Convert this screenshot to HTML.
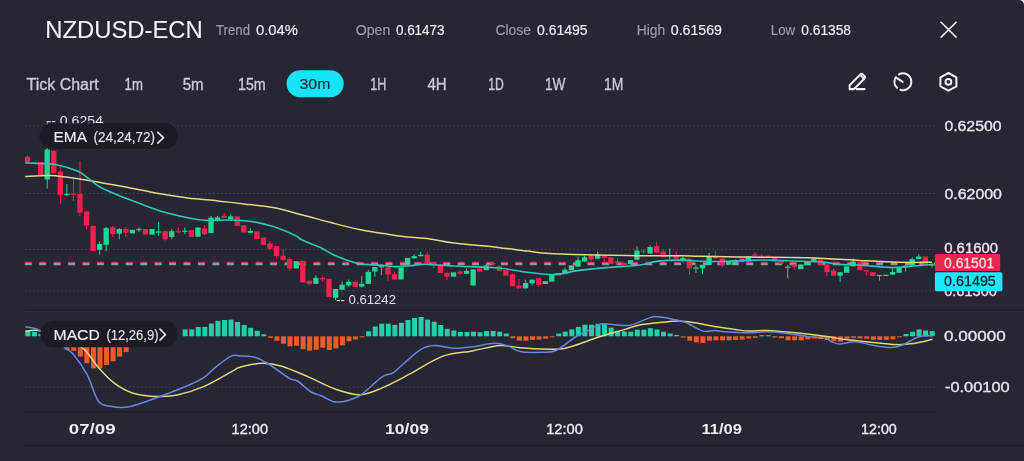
<!DOCTYPE html>
<html><head><meta charset="utf-8"><style>
html,body{margin:0;padding:0;background:#ffffff;}
#w{position:relative;width:1024px;height:461px;overflow:hidden;background:#262634;border-top-right-radius:5px;will-change:transform;font-family:"Liberation Sans", sans-serif;}
</style></head><body><div id="w">
<svg width="1024" height="461" viewBox="0 0 1024 461" style="position:absolute;left:0;top:0;font-family:'Liberation Sans', sans-serif">
<rect x="32" y="305.3" width="992" height="1" fill="#2b2b39"/>
<rect x="24" y="309.9" width="1000" height="1.1" fill="#1d1d28"/><rect x="24" y="311" width="1000" height="1" fill="#2e2e3c"/>
<rect x="24" y="411.2" width="911" height="1.2" fill="#1d1d28"/>
<rect x="24" y="444.9" width="1000" height="1.2" fill="#1f1f2a"/>
<line x1="25" y1="125.7" x2="935" y2="125.7" stroke="#50505e" stroke-width="1" stroke-dasharray="1.2 2.8"/>
<line x1="25" y1="193.5" x2="935" y2="193.5" stroke="#50505e" stroke-width="1" stroke-dasharray="1.2 2.8"/>
<line x1="25" y1="249.5" x2="935" y2="249.5" stroke="#50505e" stroke-width="1" stroke-dasharray="1.2 2.8"/>
<line x1="25" y1="290.8" x2="935" y2="290.8" stroke="#50505e" stroke-width="1" stroke-dasharray="1.2 2.8"/>
<line x1="25" y1="387.2" x2="935" y2="387.2" stroke="#50505e" stroke-width="1" stroke-dasharray="1.2 2.8"/>
<defs><clipPath id="mc"><rect x="20" y="113" width="915" height="197"/></clipPath><clipPath id="mm"><rect x="20" y="311.5" width="915" height="98.5"/></clipPath></defs>
<g clip-path="url(#mc)">
<line x1="24.8" y1="262.6" x2="935" y2="262.6" stroke="#c83a6e" stroke-width="1.6" stroke-dasharray="6.9 7.53"/>
<line x1="24.8" y1="264.1" x2="935" y2="264.1" stroke="#e0d8e0" stroke-width="1.4" stroke-dasharray="6.9 7.53"/>
<line x1="24.8" y1="265.4" x2="935" y2="265.4" stroke="#1f5446" stroke-width="1.2" stroke-dasharray="6.9 7.53"/>
<rect x="27.05" y="155.4" width="1" height="7.2" fill="#f0224b"/>
<rect x="24.9" y="156.7" width="5.3" height="5.9" fill="#f0224b"/>
<rect x="31.45" y="162.5" width="5.3" height="1.5" fill="#1fd692"/>
<rect x="38.01" y="161.9" width="5.3" height="13.1" fill="#f0224b"/>
<rect x="46.71" y="121" width="1" height="67.6" fill="#1fd692"/>
<rect x="44.56" y="149.6" width="5.3" height="29.9" fill="#1fd692"/>
<rect x="53.26" y="150" width="1" height="23" fill="#f0224b"/>
<rect x="51.11" y="150.9" width="5.3" height="22.1" fill="#f0224b"/>
<rect x="59.81" y="165.8" width="1" height="38.2" fill="#f0224b"/>
<rect x="57.66" y="171.7" width="5.3" height="23.3" fill="#f0224b"/>
<rect x="66.37" y="184" width="1" height="12" fill="#1fd692"/>
<rect x="64.22" y="193.8" width="5.3" height="1.3" fill="#1fd692"/>
<rect x="72.92" y="176.9" width="1" height="24.1" fill="#f0224b"/>
<rect x="70.77" y="193.5" width="5.3" height="1.5" fill="#f0224b"/>
<rect x="79.47" y="161" width="1" height="55.5" fill="#f0224b"/>
<rect x="77.32" y="194" width="5.3" height="18.6" fill="#f0224b"/>
<rect x="86.03" y="210.7" width="1" height="19.1" fill="#f0224b"/>
<rect x="83.88" y="211.5" width="5.3" height="13.9" fill="#f0224b"/>
<rect x="90.43" y="225.8" width="5.3" height="25.2" fill="#f0224b"/>
<rect x="99.13" y="241.5" width="1" height="13.2" fill="#1fd692"/>
<rect x="96.98" y="244" width="5.3" height="5.8" fill="#1fd692"/>
<rect x="105.69" y="227" width="1" height="24.3" fill="#1fd692"/>
<rect x="103.54" y="227.9" width="5.3" height="16.9" fill="#1fd692"/>
<rect x="112.24" y="226" width="1" height="11" fill="#f0224b"/>
<rect x="110.09" y="227.3" width="5.3" height="6.9" fill="#f0224b"/>
<rect x="118.79" y="228" width="1" height="11.3" fill="#1fd692"/>
<rect x="116.64" y="229" width="5.3" height="4.7" fill="#1fd692"/>
<rect x="125.34" y="227" width="1" height="10" fill="#f0224b"/>
<rect x="123.19" y="228.7" width="5.3" height="4" fill="#f0224b"/>
<rect x="129.75" y="229.8" width="5.3" height="3.6" fill="#1fd692"/>
<rect x="138.45" y="227.3" width="1" height="4.7" fill="#1fd692"/>
<rect x="136.3" y="228.9" width="5.3" height="1.2" fill="#1fd692"/>
<rect x="142.85" y="229" width="5.3" height="5.6" fill="#f0224b"/>
<rect x="149.41" y="229" width="5.3" height="5.6" fill="#1fd692"/>
<rect x="158.11" y="221.7" width="1" height="13.9" fill="#1fd692"/>
<rect x="155.96" y="231.4" width="5.3" height="1.2" fill="#1fd692"/>
<rect x="164.66" y="231" width="1" height="9.7" fill="#f0224b"/>
<rect x="162.51" y="231.2" width="5.3" height="8.1" fill="#f0224b"/>
<rect x="171.22" y="229" width="1" height="10.3" fill="#1fd692"/>
<rect x="169.07" y="231.2" width="5.3" height="5.8" fill="#1fd692"/>
<rect x="177.77" y="227.3" width="1" height="6.1" fill="#f0224b"/>
<rect x="175.62" y="231.1" width="5.3" height="1.2" fill="#f0224b"/>
<rect x="184.32" y="227.3" width="1" height="6.9" fill="#1fd692"/>
<rect x="182.17" y="230.7" width="5.3" height="1.2" fill="#1fd692"/>
<rect x="188.72" y="230.2" width="5.3" height="6.8" fill="#f0224b"/>
<rect x="197.43" y="227" width="1" height="10" fill="#1fd692"/>
<rect x="195.28" y="227.6" width="5.3" height="9" fill="#1fd692"/>
<rect x="203.98" y="225.4" width="1" height="9.6" fill="#f0224b"/>
<rect x="201.83" y="228.3" width="5.3" height="5.9" fill="#f0224b"/>
<rect x="210.53" y="215.9" width="1" height="17.2" fill="#1fd692"/>
<rect x="208.38" y="217.6" width="5.3" height="15.5" fill="#1fd692"/>
<rect x="217.09" y="215.9" width="1" height="5.8" fill="#1fd692"/>
<rect x="214.94" y="217.3" width="5.3" height="2.9" fill="#1fd692"/>
<rect x="223.64" y="212.9" width="1" height="5.1" fill="#f0224b"/>
<rect x="221.49" y="215.9" width="5.3" height="2.1" fill="#f0224b"/>
<rect x="230.19" y="214.2" width="1" height="4.8" fill="#1fd692"/>
<rect x="228.04" y="216.4" width="5.3" height="2.6" fill="#1fd692"/>
<rect x="234.6" y="216.4" width="5.3" height="9.5" fill="#f0224b"/>
<rect x="241.15" y="225.1" width="5.3" height="7.4" fill="#f0224b"/>
<rect x="249.85" y="228.4" width="1" height="4.4" fill="#1fd692"/>
<rect x="247.7" y="231" width="5.3" height="1.8" fill="#1fd692"/>
<rect x="254.25" y="231.3" width="5.3" height="7.7" fill="#f0224b"/>
<rect x="260.81" y="237.6" width="5.3" height="7.3" fill="#f0224b"/>
<rect x="269.51" y="241.2" width="1" height="7.6" fill="#f0224b"/>
<rect x="267.36" y="243.4" width="5.3" height="5.4" fill="#f0224b"/>
<rect x="276.06" y="246" width="1" height="12.3" fill="#f0224b"/>
<rect x="273.91" y="246" width="5.3" height="10.1" fill="#f0224b"/>
<rect x="282.62" y="248.8" width="1" height="11.4" fill="#f0224b"/>
<rect x="280.47" y="255.8" width="5.3" height="4.4" fill="#f0224b"/>
<rect x="289.17" y="257.3" width="1" height="13.4" fill="#f0224b"/>
<rect x="287.02" y="259" width="5.3" height="9.5" fill="#f0224b"/>
<rect x="293.57" y="261.2" width="5.3" height="7.3" fill="#1fd692"/>
<rect x="300.13" y="260.8" width="5.3" height="21.7" fill="#f0224b"/>
<rect x="308.83" y="280.7" width="1" height="4.7" fill="#f0224b"/>
<rect x="306.68" y="280.7" width="5.3" height="3.2" fill="#f0224b"/>
<rect x="315.38" y="275" width="1" height="8.9" fill="#1fd692"/>
<rect x="313.23" y="277.8" width="5.3" height="6.1" fill="#1fd692"/>
<rect x="321.93" y="275.9" width="1" height="5.8" fill="#f0224b"/>
<rect x="319.78" y="277.8" width="5.3" height="1.7" fill="#f0224b"/>
<rect x="326.34" y="278.8" width="5.3" height="18.3" fill="#f0224b"/>
<rect x="335.04" y="289" width="1" height="11" fill="#1fd692"/>
<rect x="332.89" y="289" width="5.3" height="8.8" fill="#1fd692"/>
<rect x="341.59" y="281.7" width="1" height="8.1" fill="#1fd692"/>
<rect x="339.44" y="284.7" width="5.3" height="5.1" fill="#1fd692"/>
<rect x="348.15" y="279.5" width="1" height="7.4" fill="#1fd692"/>
<rect x="346" y="281.7" width="5.3" height="3.7" fill="#1fd692"/>
<rect x="352.55" y="281.7" width="5.3" height="5.2" fill="#f0224b"/>
<rect x="361.25" y="275.9" width="1" height="11.7" fill="#1fd692"/>
<rect x="359.1" y="283.9" width="5.3" height="2.7" fill="#1fd692"/>
<rect x="367.81" y="270" width="1" height="13.9" fill="#1fd692"/>
<rect x="365.66" y="271.9" width="5.3" height="12" fill="#1fd692"/>
<rect x="374.36" y="267.1" width="1" height="9.5" fill="#1fd692"/>
<rect x="372.21" y="267.1" width="5.3" height="4.4" fill="#1fd692"/>
<rect x="380.91" y="264.2" width="1" height="10.9" fill="#1fd692"/>
<rect x="378.76" y="266.1" width="5.3" height="1.2" fill="#1fd692"/>
<rect x="387.46" y="267.1" width="1" height="13.9" fill="#f0224b"/>
<rect x="385.31" y="267.1" width="5.3" height="7.3" fill="#f0224b"/>
<rect x="394.02" y="271.5" width="1" height="8" fill="#f0224b"/>
<rect x="391.87" y="274" width="5.3" height="5.5" fill="#f0224b"/>
<rect x="398.42" y="267.5" width="5.3" height="12" fill="#1fd692"/>
<rect x="404.97" y="257.9" width="5.3" height="7" fill="#1fd692"/>
<rect x="413.68" y="254.3" width="1" height="4.7" fill="#1fd692"/>
<rect x="411.53" y="256.1" width="5.3" height="2.2" fill="#1fd692"/>
<rect x="420.23" y="251.8" width="1" height="4.4" fill="#1fd692"/>
<rect x="418.08" y="254.8" width="5.3" height="1.4" fill="#1fd692"/>
<rect x="426.78" y="252.6" width="1" height="10.9" fill="#f0224b"/>
<rect x="424.63" y="254.8" width="5.3" height="8.7" fill="#f0224b"/>
<rect x="433.34" y="262" width="1" height="6" fill="#f0224b"/>
<rect x="431.19" y="262" width="5.3" height="3" fill="#f0224b"/>
<rect x="437.74" y="265" width="5.3" height="8" fill="#f0224b"/>
<rect x="446.44" y="272.8" width="1" height="6.9" fill="#f0224b"/>
<rect x="444.29" y="272.8" width="5.3" height="3.9" fill="#f0224b"/>
<rect x="450.84" y="272.3" width="5.3" height="4.4" fill="#1fd692"/>
<rect x="459.55" y="270.1" width="1" height="5.2" fill="#f0224b"/>
<rect x="457.4" y="271.6" width="5.3" height="2.2" fill="#f0224b"/>
<rect x="466.1" y="268.7" width="1" height="5.1" fill="#1fd692"/>
<rect x="463.95" y="270.9" width="5.3" height="2.9" fill="#1fd692"/>
<rect x="470.5" y="269.4" width="5.3" height="16.1" fill="#1fd692"/>
<rect x="477.06" y="268.4" width="5.3" height="3.2" fill="#f0224b"/>
<rect x="485.76" y="263.6" width="1" height="6.5" fill="#1fd692"/>
<rect x="483.61" y="265.5" width="5.3" height="4.6" fill="#1fd692"/>
<rect x="492.31" y="262.5" width="1" height="2.5" fill="#f0224b"/>
<rect x="490.16" y="263.15" width="5.3" height="1.2" fill="#f0224b"/>
<rect x="498.87" y="265" width="1" height="5.9" fill="#f0224b"/>
<rect x="496.72" y="266.5" width="5.3" height="4.4" fill="#f0224b"/>
<rect x="503.27" y="270.1" width="5.3" height="5.6" fill="#f0224b"/>
<rect x="511.97" y="273.4" width="1" height="12.8" fill="#f0224b"/>
<rect x="509.82" y="274.5" width="5.3" height="11.7" fill="#f0224b"/>
<rect x="518.52" y="279" width="1" height="9.4" fill="#f0224b"/>
<rect x="516.38" y="285.5" width="5.3" height="2.9" fill="#f0224b"/>
<rect x="525.08" y="279.7" width="1" height="8.7" fill="#1fd692"/>
<rect x="522.93" y="283" width="5.3" height="5.4" fill="#1fd692"/>
<rect x="531.63" y="279.7" width="1" height="5.8" fill="#1fd692"/>
<rect x="529.48" y="279.7" width="5.3" height="3.6" fill="#1fd692"/>
<rect x="538.18" y="278.2" width="1" height="8.8" fill="#f0224b"/>
<rect x="536.03" y="278.2" width="5.3" height="6.6" fill="#f0224b"/>
<rect x="542.59" y="281.1" width="5.3" height="2.9" fill="#1fd692"/>
<rect x="549.14" y="274.5" width="5.3" height="7.1" fill="#1fd692"/>
<rect x="555.69" y="273" width="5.3" height="2.3" fill="#1fd692"/>
<rect x="564.4" y="267.5" width="1" height="6.5" fill="#1fd692"/>
<rect x="562.25" y="269.7" width="5.3" height="4.3" fill="#1fd692"/>
<rect x="568.8" y="265.3" width="5.3" height="5.1" fill="#1fd692"/>
<rect x="577.5" y="256.5" width="1" height="10.2" fill="#1fd692"/>
<rect x="575.35" y="260.1" width="5.3" height="6.6" fill="#1fd692"/>
<rect x="584.05" y="255.7" width="1" height="5.9" fill="#1fd692"/>
<rect x="581.9" y="257.2" width="5.3" height="4.4" fill="#1fd692"/>
<rect x="590.61" y="255" width="1" height="6.6" fill="#f0224b"/>
<rect x="588.46" y="256" width="5.3" height="3.4" fill="#f0224b"/>
<rect x="597.16" y="251.4" width="1" height="7.3" fill="#1fd692"/>
<rect x="595.01" y="254.3" width="5.3" height="4.4" fill="#1fd692"/>
<rect x="603.71" y="255.7" width="1" height="7.3" fill="#f0224b"/>
<rect x="601.56" y="255.7" width="5.3" height="2.3" fill="#f0224b"/>
<rect x="608.12" y="257.2" width="5.3" height="6.6" fill="#f0224b"/>
<rect x="616.82" y="258" width="1" height="6.5" fill="#f0224b"/>
<rect x="614.67" y="261.4" width="5.3" height="1.2" fill="#f0224b"/>
<rect x="621.22" y="262.8" width="5.3" height="2.5" fill="#f0224b"/>
<rect x="627.78" y="260.1" width="5.3" height="4.1" fill="#1fd692"/>
<rect x="636.48" y="246.2" width="1" height="13.6" fill="#1fd692"/>
<rect x="634.33" y="250.6" width="5.3" height="9.2" fill="#1fd692"/>
<rect x="643.03" y="249.2" width="1" height="4.3" fill="#f0224b"/>
<rect x="640.88" y="250.8" width="5.3" height="1.2" fill="#f0224b"/>
<rect x="649.58" y="245.5" width="1" height="8" fill="#1fd692"/>
<rect x="647.43" y="247" width="5.3" height="6.5" fill="#1fd692"/>
<rect x="656.14" y="242.3" width="1" height="10.5" fill="#f0224b"/>
<rect x="653.99" y="246.2" width="5.3" height="6.6" fill="#f0224b"/>
<rect x="662.69" y="249.2" width="1" height="8" fill="#f0224b"/>
<rect x="660.54" y="251.4" width="5.3" height="5.8" fill="#f0224b"/>
<rect x="669.24" y="248.4" width="1" height="11" fill="#1fd692"/>
<rect x="667.09" y="255.1" width="5.3" height="1.2" fill="#1fd692"/>
<rect x="675.8" y="251.4" width="1" height="7.3" fill="#f0224b"/>
<rect x="673.65" y="255" width="5.3" height="3.7" fill="#f0224b"/>
<rect x="682.35" y="255.7" width="1" height="6.6" fill="#1fd692"/>
<rect x="680.2" y="258" width="5.3" height="2.1" fill="#1fd692"/>
<rect x="688.9" y="258.7" width="1" height="16.1" fill="#f0224b"/>
<rect x="686.75" y="258.7" width="5.3" height="9.5" fill="#f0224b"/>
<rect x="695.46" y="265.3" width="1" height="7.7" fill="#1fd692"/>
<rect x="693.31" y="267.5" width="5.3" height="1.3" fill="#1fd692"/>
<rect x="702.01" y="264.8" width="1" height="9.2" fill="#1fd692"/>
<rect x="699.86" y="264.8" width="5.3" height="3.6" fill="#1fd692"/>
<rect x="708.56" y="252.7" width="1" height="12.3" fill="#1fd692"/>
<rect x="706.41" y="256.4" width="5.3" height="8.6" fill="#1fd692"/>
<rect x="715.11" y="251.2" width="1" height="7.3" fill="#f0224b"/>
<rect x="712.96" y="255.6" width="5.3" height="2.9" fill="#f0224b"/>
<rect x="721.67" y="258.5" width="1" height="8.8" fill="#f0224b"/>
<rect x="719.52" y="258.5" width="5.3" height="6.6" fill="#f0224b"/>
<rect x="726.07" y="261.5" width="5.3" height="3.3" fill="#1fd692"/>
<rect x="734.77" y="259.3" width="1" height="5.1" fill="#1fd692"/>
<rect x="732.62" y="260.7" width="5.3" height="3.7" fill="#1fd692"/>
<rect x="739.18" y="258.5" width="5.3" height="3.7" fill="#f0224b"/>
<rect x="745.73" y="256.4" width="5.3" height="5.1" fill="#1fd692"/>
<rect x="754.43" y="252" width="1" height="5" fill="#f0224b"/>
<rect x="752.28" y="254.35" width="5.3" height="1.2" fill="#f0224b"/>
<rect x="760.99" y="254.2" width="1" height="4.3" fill="#f0224b"/>
<rect x="758.84" y="255.7" width="5.3" height="1.2" fill="#f0224b"/>
<rect x="765.39" y="255.6" width="5.3" height="2.2" fill="#f0224b"/>
<rect x="771.94" y="257" width="5.3" height="4.5" fill="#f0224b"/>
<rect x="778.5" y="260" width="5.3" height="3.7" fill="#f0224b"/>
<rect x="787.2" y="265" width="1" height="13.3" fill="#1fd692"/>
<rect x="785.05" y="266.7" width="5.3" height="1.2" fill="#1fd692"/>
<rect x="793.75" y="264.4" width="1" height="5.1" fill="#f0224b"/>
<rect x="791.6" y="264.4" width="5.3" height="2.2" fill="#f0224b"/>
<rect x="798.15" y="264.4" width="5.3" height="4.8" fill="#1fd692"/>
<rect x="804.71" y="261.5" width="5.3" height="3.6" fill="#1fd692"/>
<rect x="813.41" y="257" width="1" height="5.2" fill="#1fd692"/>
<rect x="811.26" y="258.5" width="5.3" height="3.7" fill="#1fd692"/>
<rect x="817.81" y="259.3" width="5.3" height="5.8" fill="#f0224b"/>
<rect x="826.52" y="264.5" width="1" height="11.5" fill="#f0224b"/>
<rect x="824.37" y="264.5" width="5.3" height="7.5" fill="#f0224b"/>
<rect x="833.07" y="268.2" width="1" height="7.5" fill="#f0224b"/>
<rect x="830.92" y="270.5" width="5.3" height="5.2" fill="#f0224b"/>
<rect x="839.62" y="272.3" width="1" height="9.7" fill="#1fd692"/>
<rect x="837.47" y="272.3" width="5.3" height="3.4" fill="#1fd692"/>
<rect x="844.02" y="266.3" width="5.3" height="6.5" fill="#1fd692"/>
<rect x="852.73" y="258.4" width="1" height="7.9" fill="#1fd692"/>
<rect x="850.58" y="261.7" width="5.3" height="4.6" fill="#1fd692"/>
<rect x="857.13" y="262.3" width="5.3" height="7.9" fill="#f0224b"/>
<rect x="865.83" y="270.2" width="1" height="5.2" fill="#f0224b"/>
<rect x="863.68" y="270.2" width="5.3" height="1.3" fill="#f0224b"/>
<rect x="870.24" y="272.1" width="5.3" height="3.9" fill="#f0224b"/>
<rect x="878.94" y="275" width="1" height="5.6" fill="#1fd692"/>
<rect x="876.79" y="274.9" width="5.3" height="1.2" fill="#1fd692"/>
<rect x="883.34" y="274.7" width="5.3" height="1.3" fill="#1fd692"/>
<rect x="892.05" y="268.8" width="1" height="5.9" fill="#1fd692"/>
<rect x="889.9" y="272" width="5.3" height="2.7" fill="#1fd692"/>
<rect x="896.45" y="267.6" width="5.3" height="5.2" fill="#1fd692"/>
<rect x="905.15" y="263.6" width="1" height="7.9" fill="#1fd692"/>
<rect x="903" y="265.6" width="5.3" height="1.2" fill="#1fd692"/>
<rect x="911.7" y="257.8" width="1" height="7.8" fill="#1fd692"/>
<rect x="909.55" y="259.1" width="5.3" height="6.5" fill="#1fd692"/>
<rect x="918.26" y="254.3" width="1" height="4.8" fill="#1fd692"/>
<rect x="916.11" y="256.5" width="5.3" height="2.6" fill="#1fd692"/>
<rect x="922.66" y="256.5" width="5.3" height="9.1" fill="#f0224b"/>
<rect x="931.36" y="264.3" width="1" height="3.3" fill="#1fd692"/>
<rect x="929.21" y="264.3" width="5.3" height="1.3" fill="#1fd692"/>
<path d="M25.2 176.5 C29.5 176.33 41.87 175.08 51 175.5 C60.13 175.92 71.83 177.82 80 179 C88.17 180.18 91.78 181.15 100 182.6 C108.22 184.05 119.53 185.88 129.3 187.7 C139.07 189.52 148.83 191.8 158.6 193.5 C168.37 195.2 178.13 196.67 187.9 197.9 C197.67 199.13 207.85 199.9 217.2 200.9 C226.55 201.9 234.7 202.78 244 203.9 C253.3 205.02 263.25 205.77 273 207.6 C282.75 209.43 293 212.45 302.5 214.9 C312 217.35 320.53 219.85 330 222.3 C339.47 224.75 350.35 227.72 359.3 229.6 C368.25 231.48 376.38 232.45 383.7 233.6 C391.02 234.75 395.48 235.62 403.2 236.5 C410.92 237.38 421.53 237.82 430 238.9 C438.47 239.98 442.68 241.58 454 243 C465.32 244.42 485.7 246.05 497.9 247.4 C510.1 248.75 518.52 250.08 527.2 251.1 C535.88 252.12 538.87 252.85 550 253.5 C561.13 254.15 579.35 254.63 594 255 C608.65 255.37 623.27 255.58 637.9 255.7 C652.53 255.82 671.45 255.62 681.8 255.7 C692.15 255.78 688.87 255.97 700 256.2 C711.13 256.43 730.73 256.83 748.6 257.1 C766.47 257.37 791.97 257.43 807.2 257.8 C822.43 258.17 831.37 258.87 840 259.3 C848.63 259.73 849.33 259.9 859 260.4 C868.67 260.9 885.83 261.98 898 262.3 C910.17 262.62 926.33 262.3 932 262.3" fill="none" stroke="#e4d984" stroke-width="1.5"/>
<path d="M25.2 162.9 C27.67 163 34.78 163.2 40 163.5 C45.22 163.8 50.28 163.45 56.5 164.7 C62.72 165.95 72.1 168.82 77.3 171 C82.5 173.18 83.92 175.13 87.7 177.8 C91.48 180.47 94.62 183.97 100 187 C105.38 190.03 115.12 193.93 120 196 C124.88 198.07 122.87 197 129.3 199.4 C135.73 201.8 148.83 207.35 158.6 210.4 C168.37 213.45 180.08 216.05 187.9 217.7 C195.72 219.35 198.6 219.92 205.5 220.3 C212.4 220.68 221.67 219.8 229.3 220 C236.93 220.2 243.98 220.4 251.3 221.5 C258.62 222.6 265.88 224.28 273.2 226.6 C280.52 228.92 290.37 233.17 295.2 235.4 C300.03 237.63 297.85 237.9 302.2 240 C306.55 242.1 315.83 245.42 321.3 248 C326.77 250.58 328.9 252.93 335 255.5 C341.1 258.07 350.18 261.78 357.9 263.4 C365.62 265.02 375.2 264.67 381.3 265.2 C387.4 265.73 389.72 266.52 394.5 266.6 C399.28 266.68 404.98 266.08 410 265.7 C415.02 265.32 417.27 264.25 424.6 264.3 C431.93 264.35 441.78 265.38 454 266 C466.22 266.62 485.7 266.95 497.9 268 C510.1 269.05 518.65 271.22 527.2 272.3 C535.75 273.38 543.73 274.22 549.2 274.5 C554.67 274.78 554.98 274.68 560 274 C565.02 273.32 571.2 271.48 579.3 270.4 C587.4 269.32 598.83 268.35 608.6 267.5 C618.37 266.65 629.35 266.4 637.9 265.3 C646.45 264.2 652.58 261.77 659.9 260.9 C667.22 260.03 675.12 260.05 681.8 260.1 C688.48 260.15 693.75 260.97 700 261.2 C706.25 261.43 708.77 261.7 719.3 261.5 C729.83 261.3 751 260.08 763.2 260 C775.4 259.92 782.73 260.67 792.5 261 C802.27 261.33 813.88 261.43 821.8 262 C829.72 262.57 833.8 263.9 840 264.4 C846.2 264.9 850.4 264.47 859 265 C867.6 265.53 882.93 267.38 891.6 267.6 C900.27 267.82 904.1 266.85 911 266.3 C917.9 265.75 929.33 264.63 933 264.3" fill="none" stroke="#2ac6bc" stroke-width="1.6"/>
</g>
<g clip-path="url(#mm)">
<rect x="25.4" y="330.6" width="5" height="5.7" fill="#22cfa8"/>
<rect x="31.95" y="332" width="5" height="4.3" fill="#22cfa8"/>
<rect x="38.51" y="334" width="5" height="2.3" fill="#22cfa8"/>
<rect x="45.06" y="336.3" width="5" height="4.7" fill="#f05a24"/>
<rect x="51.61" y="336.3" width="5" height="7.7" fill="#f05a24"/>
<rect x="58.16" y="336.3" width="5" height="10.7" fill="#f05a24"/>
<rect x="64.72" y="336.3" width="5" height="13.6" fill="#f05a24"/>
<rect x="71.27" y="336.3" width="5" height="14.5" fill="#f05a24"/>
<rect x="77.82" y="336.3" width="5" height="20.3" fill="#f05a24"/>
<rect x="84.38" y="336.3" width="5" height="26.9" fill="#f05a24"/>
<rect x="90.93" y="336.3" width="5" height="32.1" fill="#f05a24"/>
<rect x="97.48" y="336.3" width="5" height="32.1" fill="#f05a24"/>
<rect x="104.04" y="336.3" width="5" height="28.8" fill="#f05a24"/>
<rect x="110.59" y="336.3" width="5" height="24.9" fill="#f05a24"/>
<rect x="117.14" y="336.3" width="5" height="20.3" fill="#f05a24"/>
<rect x="123.69" y="336.3" width="5" height="15.8" fill="#f05a24"/>
<rect x="130.25" y="336.3" width="5" height="10.7" fill="#f05a24"/>
<rect x="136.8" y="336.3" width="5" height="8.7" fill="#f05a24"/>
<rect x="143.35" y="336.3" width="5" height="5.7" fill="#f05a24"/>
<rect x="149.91" y="336.3" width="5" height="2.7" fill="#f05a24"/>
<rect x="156.46" y="336.3" width="5" height="1.2" fill="#f05a24"/>
<rect x="163.01" y="334" width="5" height="2.3" fill="#22cfa8"/>
<rect x="169.57" y="332" width="5" height="4.3" fill="#22cfa8"/>
<rect x="182.67" y="329.4" width="5" height="6.9" fill="#22cfa8"/>
<rect x="189.22" y="329.4" width="5" height="6.9" fill="#22cfa8"/>
<rect x="195.78" y="327" width="5" height="9.3" fill="#22cfa8"/>
<rect x="202.33" y="327" width="5" height="9.3" fill="#22cfa8"/>
<rect x="208.88" y="323.5" width="5" height="12.8" fill="#22cfa8"/>
<rect x="215.44" y="320.8" width="5" height="15.5" fill="#22cfa8"/>
<rect x="221.99" y="320" width="5" height="16.3" fill="#22cfa8"/>
<rect x="228.54" y="319.6" width="5" height="16.7" fill="#22cfa8"/>
<rect x="235.1" y="322" width="5" height="14.3" fill="#22cfa8"/>
<rect x="241.65" y="324.9" width="5" height="11.4" fill="#22cfa8"/>
<rect x="248.2" y="327.8" width="5" height="8.5" fill="#22cfa8"/>
<rect x="254.75" y="330.8" width="5" height="5.5" fill="#22cfa8"/>
<rect x="261.31" y="334.3" width="5" height="2" fill="#22cfa8"/>
<rect x="267.86" y="336.3" width="5" height="1.5" fill="#f05a24"/>
<rect x="274.41" y="336.3" width="5" height="4.4" fill="#f05a24"/>
<rect x="280.97" y="336.3" width="5" height="7.4" fill="#f05a24"/>
<rect x="287.52" y="336.3" width="5" height="10" fill="#f05a24"/>
<rect x="294.07" y="336.3" width="5" height="9.4" fill="#f05a24"/>
<rect x="300.63" y="336.3" width="5" height="12.9" fill="#f05a24"/>
<rect x="307.18" y="336.3" width="5" height="14.3" fill="#f05a24"/>
<rect x="313.73" y="336.3" width="5" height="13.4" fill="#f05a24"/>
<rect x="320.28" y="336.3" width="5" height="11.4" fill="#f05a24"/>
<rect x="326.84" y="336.3" width="5" height="13.7" fill="#f05a24"/>
<rect x="333.39" y="336.3" width="5" height="12.2" fill="#f05a24"/>
<rect x="339.94" y="336.3" width="5" height="9.1" fill="#f05a24"/>
<rect x="346.5" y="336.3" width="5" height="5" fill="#f05a24"/>
<rect x="353.05" y="336.3" width="5" height="3.2" fill="#f05a24"/>
<rect x="359.6" y="336.3" width="5" height="1" fill="#f05a24"/>
<rect x="366.16" y="331.3" width="5" height="5" fill="#22cfa8"/>
<rect x="372.71" y="326.6" width="5" height="9.7" fill="#22cfa8"/>
<rect x="379.26" y="323.7" width="5" height="12.6" fill="#22cfa8"/>
<rect x="385.81" y="323.7" width="5" height="12.6" fill="#22cfa8"/>
<rect x="392.37" y="324.9" width="5" height="11.4" fill="#22cfa8"/>
<rect x="398.92" y="322.9" width="5" height="13.4" fill="#22cfa8"/>
<rect x="405.47" y="320" width="5" height="16.3" fill="#22cfa8"/>
<rect x="412.03" y="318" width="5" height="18.3" fill="#22cfa8"/>
<rect x="418.58" y="317" width="5" height="19.3" fill="#22cfa8"/>
<rect x="425.13" y="319.6" width="5" height="16.7" fill="#22cfa8"/>
<rect x="431.69" y="321.7" width="5" height="14.6" fill="#22cfa8"/>
<rect x="438.24" y="325" width="5" height="11.3" fill="#22cfa8"/>
<rect x="444.79" y="328.8" width="5" height="7.5" fill="#22cfa8"/>
<rect x="451.34" y="330.5" width="5" height="5.8" fill="#22cfa8"/>
<rect x="457.9" y="332" width="5" height="4.3" fill="#22cfa8"/>
<rect x="464.45" y="332" width="5" height="4.3" fill="#22cfa8"/>
<rect x="471" y="331.7" width="5" height="4.6" fill="#22cfa8"/>
<rect x="477.56" y="332.3" width="5" height="4" fill="#22cfa8"/>
<rect x="484.11" y="331.1" width="5" height="5.2" fill="#22cfa8"/>
<rect x="490.66" y="330.9" width="5" height="5.4" fill="#22cfa8"/>
<rect x="497.22" y="331.7" width="5" height="4.6" fill="#22cfa8"/>
<rect x="503.77" y="333.5" width="5" height="2.8" fill="#22cfa8"/>
<rect x="510.32" y="336.3" width="5" height="1.9" fill="#f05a24"/>
<rect x="516.88" y="336.3" width="5" height="4.4" fill="#f05a24"/>
<rect x="523.43" y="336.3" width="5" height="4.4" fill="#f05a24"/>
<rect x="529.98" y="336.3" width="5" height="3.6" fill="#f05a24"/>
<rect x="536.53" y="336.3" width="5" height="3.3" fill="#f05a24"/>
<rect x="543.09" y="336.3" width="5" height="2.4" fill="#f05a24"/>
<rect x="549.64" y="336.3" width="5" height="1" fill="#f05a24"/>
<rect x="556.19" y="333.5" width="5" height="2.8" fill="#22cfa8"/>
<rect x="562.75" y="331.7" width="5" height="4.6" fill="#22cfa8"/>
<rect x="569.3" y="329.4" width="5" height="6.9" fill="#22cfa8"/>
<rect x="575.85" y="327" width="5" height="9.3" fill="#22cfa8"/>
<rect x="582.4" y="324.7" width="5" height="11.6" fill="#22cfa8"/>
<rect x="588.96" y="324.7" width="5" height="11.6" fill="#22cfa8"/>
<rect x="595.51" y="323.8" width="5" height="12.5" fill="#22cfa8"/>
<rect x="602.06" y="323.8" width="5" height="12.5" fill="#22cfa8"/>
<rect x="608.62" y="327.6" width="5" height="8.7" fill="#22cfa8"/>
<rect x="615.17" y="330.8" width="5" height="5.5" fill="#22cfa8"/>
<rect x="621.72" y="331.4" width="5" height="4.9" fill="#22cfa8"/>
<rect x="628.28" y="331.7" width="5" height="4.6" fill="#22cfa8"/>
<rect x="634.83" y="329.7" width="5" height="6.6" fill="#22cfa8"/>
<rect x="641.38" y="329.7" width="5" height="6.6" fill="#22cfa8"/>
<rect x="647.93" y="328.2" width="5" height="8.1" fill="#22cfa8"/>
<rect x="654.49" y="329.4" width="5" height="6.9" fill="#22cfa8"/>
<rect x="661.04" y="331.7" width="5" height="4.6" fill="#22cfa8"/>
<rect x="667.59" y="333.5" width="5" height="2.8" fill="#22cfa8"/>
<rect x="674.15" y="335" width="5" height="1.3" fill="#22cfa8"/>
<rect x="680.7" y="336.3" width="5" height="1.2" fill="#f05a24"/>
<rect x="687.25" y="336.3" width="5" height="4.4" fill="#f05a24"/>
<rect x="693.81" y="336.3" width="5" height="6" fill="#f05a24"/>
<rect x="700.36" y="336.3" width="5" height="6.5" fill="#f05a24"/>
<rect x="706.91" y="336.3" width="5" height="4.4" fill="#f05a24"/>
<rect x="713.46" y="336.3" width="5" height="4" fill="#f05a24"/>
<rect x="720.02" y="336.3" width="5" height="4" fill="#f05a24"/>
<rect x="726.57" y="336.3" width="5" height="4" fill="#f05a24"/>
<rect x="733.12" y="336.3" width="5" height="3.7" fill="#f05a24"/>
<rect x="739.68" y="336.3" width="5" height="3.3" fill="#f05a24"/>
<rect x="746.23" y="336.3" width="5" height="2.2" fill="#f05a24"/>
<rect x="752.78" y="336.3" width="5" height="1.5" fill="#f05a24"/>
<rect x="759.34" y="335.2" width="5" height="1.1" fill="#22cfa8"/>
<rect x="765.89" y="335.2" width="5" height="1.1" fill="#22cfa8"/>
<rect x="772.44" y="336.3" width="5" height="1.2" fill="#f05a24"/>
<rect x="779" y="336.3" width="5" height="1.9" fill="#f05a24"/>
<rect x="785.55" y="336.3" width="5" height="4" fill="#f05a24"/>
<rect x="792.1" y="336.3" width="5" height="4" fill="#f05a24"/>
<rect x="798.65" y="336.3" width="5" height="4" fill="#f05a24"/>
<rect x="805.21" y="336.3" width="5" height="3" fill="#f05a24"/>
<rect x="811.76" y="336.3" width="5" height="2.2" fill="#f05a24"/>
<rect x="818.31" y="336.3" width="5" height="2.7" fill="#f05a24"/>
<rect x="824.87" y="336.3" width="5" height="3.7" fill="#f05a24"/>
<rect x="831.42" y="336.3" width="5" height="4.9" fill="#f05a24"/>
<rect x="837.97" y="336.3" width="5" height="5.4" fill="#f05a24"/>
<rect x="844.52" y="336.3" width="5" height="2.4" fill="#f05a24"/>
<rect x="851.08" y="336.3" width="5" height="1.6" fill="#f05a24"/>
<rect x="857.63" y="336.3" width="5" height="2.1" fill="#f05a24"/>
<rect x="864.18" y="336.3" width="5" height="2.4" fill="#f05a24"/>
<rect x="870.74" y="336.3" width="5" height="3.6" fill="#f05a24"/>
<rect x="877.29" y="336.3" width="5" height="3.6" fill="#f05a24"/>
<rect x="883.84" y="336.3" width="5" height="3.6" fill="#f05a24"/>
<rect x="890.4" y="336.3" width="5" height="3" fill="#f05a24"/>
<rect x="896.95" y="336.3" width="5" height="1" fill="#f05a24"/>
<rect x="903.5" y="334" width="5" height="2.3" fill="#22cfa8"/>
<rect x="910.05" y="331.7" width="5" height="4.6" fill="#22cfa8"/>
<rect x="916.61" y="329.4" width="5" height="6.9" fill="#22cfa8"/>
<rect x="923.16" y="330.5" width="5" height="5.8" fill="#22cfa8"/>
<rect x="929.71" y="331.1" width="5" height="5.2" fill="#22cfa8"/>
<path d="M25.2 331.3 C27.37 331.15 32.4 329.62 38.2 330.4 C44 331.18 52.55 333.03 60 336 C67.45 338.97 76.47 342.9 82.9 348.2 C89.33 353.5 93.37 361.97 98.6 367.8 C103.83 373.63 108.68 379 114.3 383.2 C119.92 387.4 125.55 390.78 132.3 393 C139.05 395.22 147.32 396.18 154.8 396.5 C162.28 396.82 168.97 396.58 177.2 394.9 C185.43 393.22 194.83 390.43 204.2 386.4 C213.57 382.37 227.43 373.88 233.4 370.7 C239.37 367.52 235.25 368.55 240 367.3 C244.75 366.05 255.07 363.42 261.9 363.2 C268.73 362.98 273.25 363.72 281 366 C288.75 368.28 299.28 373.03 308.4 376.9 C317.52 380.77 327.05 386.23 335.7 389.2 C344.35 392.17 352.55 394.92 360.3 394.7 C368.05 394.48 374 391.32 382.2 387.9 C390.4 384.48 399.47 379.45 409.5 374.2 C419.53 368.95 431.92 360.28 442.4 356.4 C452.88 352.52 462.83 352.72 472.4 350.9 C481.97 349.08 491.87 346.03 499.8 345.5 C507.73 344.97 510.35 347.07 520 347.7 C529.65 348.33 548.48 349.72 557.7 349.3 C566.92 348.88 568.45 347.25 575.3 345.2 C582.15 343.15 590.52 339.63 598.8 337 C607.08 334.37 618.4 331.37 625 329.4 C631.6 327.43 632.25 326.38 638.4 325.2 C644.55 324.02 655.13 323 661.9 322.3 C668.67 321.6 673.48 320.92 679 321 C684.52 321.08 689.07 321.9 695 322.8 C700.93 323.7 707.93 325.3 714.6 326.4 C721.27 327.5 729.37 328.62 735 329.4 C740.63 330.18 743.23 330.92 748.4 331.1 C753.57 331.28 760.13 330.4 766 330.5 C771.87 330.6 776.77 331.12 783.6 331.7 C790.43 332.28 799.18 333.12 807 334 C814.82 334.88 824.43 336.12 830.5 337 C836.57 337.88 837.33 338.52 843.4 339.3 C849.47 340.08 858.1 340.82 866.9 341.7 C875.7 342.58 888.38 344.32 896.2 344.6 C904.02 344.88 907.75 344.28 913.8 343.4 C919.85 342.52 929.38 339.98 932.5 339.3" fill="none" stroke="#e0d978" stroke-width="1.5"/>
<path d="M25.2 326.7 C27.17 327.13 32.53 327.58 37 329.3 C41.47 331.02 47.17 333.77 52 337 C56.83 340.23 62.33 345.7 66 348.7 C69.67 351.7 70.43 350.58 74 355 C77.57 359.42 83.3 367.45 87.4 375.2 C91.5 382.95 94.5 396.28 98.6 401.5 C102.7 406.72 107.13 405.58 112 406.5 C116.87 407.42 122.17 407.8 127.8 407 C133.43 406.2 139.43 403.82 145.8 401.7 C152.17 399.58 158.88 397.03 166 394.3 C173.12 391.57 182.13 388.12 188.5 385.3 C194.87 382.48 199.72 380.4 204.2 377.4 C208.68 374.4 210.92 370.85 215.4 367.3 C219.88 363.75 227 358 231.1 356.1 C235.2 354.2 236.23 355.75 240 355.9 C243.77 356.05 249.15 355.78 253.7 357 C258.25 358.22 261.38 359.65 267.3 363.2 C273.22 366.75 284.18 375.33 289.2 378.3 C294.22 381.27 293.75 378.72 297.4 381 C301.05 383.28 307 389.5 311.1 392 C315.2 394.5 318.35 394.42 322 396 C325.65 397.58 329.35 400.58 333 401.5 C336.65 402.42 340.27 402.08 343.9 401.5 C347.53 400.92 351.62 399.37 354.8 398 C357.98 396.63 358.43 396.82 363 393.3 C367.57 389.78 377.18 380.32 382.2 376.9 C387.22 373.48 389.45 375.08 393.1 372.8 C396.75 370.52 399.53 367.07 404.1 363.2 C408.67 359.33 415.5 352.55 420.5 349.6 C425.5 346.65 428.63 345.73 434.1 345.5 C439.57 345.27 446.92 347.98 453.3 348.2 C459.68 348.42 465.57 347.62 472.4 346.8 C479.23 345.98 488.37 343.43 494.3 343.3 C500.23 343.17 503.72 344.63 508 346 C512.28 347.37 514.67 350.45 520 351.5 C525.33 352.55 534 352.47 540 352.3 C546 352.13 550.12 353.05 556 350.5 C561.88 347.95 570.13 340.23 575.3 337 C580.47 333.77 582.72 333.25 587 331.1 C591.28 328.95 596.33 325.17 601 324.1 C605.67 323.03 610.13 324.52 615 324.7 C619.87 324.88 624.33 326.38 630.2 325.2 C636.07 324.02 645.7 319 650.2 317.6 C654.7 316.2 653.3 316.5 657.2 316.8 C661.1 317.1 668.92 318.48 673.6 319.4 C678.28 320.32 680.42 320.35 685.3 322.3 C690.18 324.25 698.02 329.73 702.9 331.1 C707.78 332.47 710.92 330.4 714.6 330.5 C718.28 330.6 719.37 331.3 725 331.7 C730.63 332.1 741.57 332.9 748.4 332.9 C755.23 332.9 760.13 331.7 766 331.7 C771.87 331.7 776.77 332.12 783.6 332.9 C790.43 333.68 800.17 335.52 807 336.4 C813.83 337.28 820.48 337.32 824.6 338.2 C828.72 339.08 829.13 340.73 831.7 341.7 C834.27 342.67 836.08 344 840 344 C843.92 344 849.75 341.5 855.2 341.7 C860.65 341.9 866.85 344.23 872.7 345.2 C878.55 346.17 885.42 347.5 890.3 347.5 C895.18 347.5 897.32 346.95 902 345.2 C906.68 343.45 913.32 338.57 918.4 337 C923.48 335.43 930.15 336 932.5 335.8" fill="none" stroke="#6686de" stroke-width="1.5"/>
</g>
<text x="46.5" y="125" font-size="13" fill="#e0e0e6" textLength="56.5" lengthAdjust="spacingAndGlyphs">-- 0.6254</text>
<text x="336" y="303.9" font-size="13" fill="#e0e0e6" textLength="60" lengthAdjust="spacingAndGlyphs">-- 0.61242</text>
<rect x="39.4" y="123.3" width="138.3" height="25.6" rx="12.8" fill="#1c1c26"/>
<text x="53.6" y="142.3" textLength="33.3" lengthAdjust="spacingAndGlyphs" font-size="15.4" fill="#f0f0f4" stroke="#f0f0f4" stroke-width="0.15" font-weight="normal">EMA</text>
<text x="93.5" y="142.3" textLength="61.5" lengthAdjust="spacingAndGlyphs" font-size="15.4" fill="#e2e2e8" stroke="#e2e2e8" stroke-width="0.15" font-weight="normal">(24,24,72)</text>
<path d="M157.8 132.4 L163.5 137.7 L157.8 143.1" stroke="#e8e8ee" stroke-width="1.6" fill="none" stroke-linecap="round" stroke-linejoin="round"/>
<rect x="40.3" y="320.8" width="137.5" height="26.4" rx="13.2" fill="#1c1c26"/>
<text x="53.6" y="339.6" textLength="46.2" lengthAdjust="spacingAndGlyphs" font-size="15.4" fill="#f0f0f4" stroke="#f0f0f4" stroke-width="0.15" font-weight="normal">MACD</text>
<text x="106.4" y="339.6" textLength="52.1" lengthAdjust="spacingAndGlyphs" font-size="15.4" fill="#e2e2e8" stroke="#e2e2e8" stroke-width="0.15" font-weight="normal">(12,26,9)</text>
<path d="M160 329.1 L165.4 334.6 L160 340.1" stroke="#e8e8ee" stroke-width="1.6" fill="none" stroke-linecap="round" stroke-linejoin="round"/>
<rect x="286.6" y="70.3" width="57.1" height="26.9" rx="13.4" fill="#16e4f6"/>
<text x="45.2" y="38.4" textLength="157.6" lengthAdjust="spacingAndGlyphs" font-size="24" fill="#f4f4f8" stroke="#f4f4f8" stroke-width="0.05" font-weight="normal">NZDUSD-ECN</text>
<text x="216" y="35.4" textLength="34" lengthAdjust="spacingAndGlyphs" font-size="15.2" fill="#9d9dab" stroke="#9d9dab" stroke-width="0.15" font-weight="normal">Trend</text>
<text x="256" y="35.4" textLength="42" lengthAdjust="spacingAndGlyphs" font-size="15.2" fill="#ececf2" stroke="#ececf2" stroke-width="0.2" font-weight="normal">0.04%</text>
<text x="355.7" y="35.4" textLength="34.6" lengthAdjust="spacingAndGlyphs" font-size="15.2" fill="#9d9dab" stroke="#9d9dab" stroke-width="0.15" font-weight="normal">Open</text>
<text x="395.9" y="35.4" textLength="48.7" lengthAdjust="spacingAndGlyphs" font-size="15.2" fill="#ececf2" stroke="#ececf2" stroke-width="0.2" font-weight="normal">0.61473</text>
<text x="495.4" y="35.4" textLength="35.6" lengthAdjust="spacingAndGlyphs" font-size="15.2" fill="#9d9dab" stroke="#9d9dab" stroke-width="0.15" font-weight="normal">Close</text>
<text x="537" y="35.4" textLength="50.6" lengthAdjust="spacingAndGlyphs" font-size="15.2" fill="#ececf2" stroke="#ececf2" stroke-width="0.2" font-weight="normal">0.61495</text>
<text x="636.8" y="35.4" textLength="28.4" lengthAdjust="spacingAndGlyphs" font-size="15.2" fill="#9d9dab" stroke="#9d9dab" stroke-width="0.15" font-weight="normal">High</text>
<text x="670.8" y="35.4" textLength="51.2" lengthAdjust="spacingAndGlyphs" font-size="15.2" fill="#ececf2" stroke="#ececf2" stroke-width="0.2" font-weight="normal">0.61569</text>
<text x="770.8" y="35.4" textLength="24.4" lengthAdjust="spacingAndGlyphs" font-size="15.2" fill="#9d9dab" stroke="#9d9dab" stroke-width="0.15" font-weight="normal">Low</text>
<text x="801.3" y="35.4" textLength="49.7" lengthAdjust="spacingAndGlyphs" font-size="15.2" fill="#ececf2" stroke="#ececf2" stroke-width="0.2" font-weight="normal">0.61358</text>
<text x="26.6" y="89.5" textLength="72.1" lengthAdjust="spacingAndGlyphs" font-size="16" fill="#c9c9d3" stroke="#c9c9d3" stroke-width="0.35" font-weight="normal">Tick Chart</text>
<text x="124.6" y="89.5" textLength="18.2" lengthAdjust="spacingAndGlyphs" font-size="16" fill="#c9c9d3" stroke="#c9c9d3" stroke-width="0.35" font-weight="normal">1m</text>
<text x="182.7" y="89.5" textLength="20.9" lengthAdjust="spacingAndGlyphs" font-size="16" fill="#c9c9d3" stroke="#c9c9d3" stroke-width="0.35" font-weight="normal">5m</text>
<text x="238" y="89.5" textLength="27.7" lengthAdjust="spacingAndGlyphs" font-size="16" fill="#c9c9d3" stroke="#c9c9d3" stroke-width="0.35" font-weight="normal">15m</text>
<text x="370.2" y="89.5" textLength="16.1" lengthAdjust="spacingAndGlyphs" font-size="16" fill="#c9c9d3" stroke="#c9c9d3" stroke-width="0.35" font-weight="normal">1H</text>
<text x="427.4" y="89.5" textLength="19.3" lengthAdjust="spacingAndGlyphs" font-size="16" fill="#c9c9d3" stroke="#c9c9d3" stroke-width="0.35" font-weight="normal">4H</text>
<text x="488.3" y="89.5" textLength="15.5" lengthAdjust="spacingAndGlyphs" font-size="16" fill="#c9c9d3" stroke="#c9c9d3" stroke-width="0.35" font-weight="normal">1D</text>
<text x="544.9" y="89.5" textLength="20.5" lengthAdjust="spacingAndGlyphs" font-size="16" fill="#c9c9d3" stroke="#c9c9d3" stroke-width="0.35" font-weight="normal">1W</text>
<text x="604" y="89.5" textLength="19.4" lengthAdjust="spacingAndGlyphs" font-size="16" fill="#c9c9d3" stroke="#c9c9d3" stroke-width="0.35" font-weight="normal">1M</text>
<text x="299.6" y="88.9" textLength="30.7" lengthAdjust="spacingAndGlyphs" font-size="15" fill="#0e3442" stroke="#0e3442" stroke-width="0.2" font-weight="normal">30m</text>
<text x="944.4" y="131" textLength="57.1" lengthAdjust="spacingAndGlyphs" font-size="14" fill="#e4e4ea" stroke="#e4e4ea" stroke-width="0.35" font-weight="normal">0.62500</text>
<text x="944.4" y="199.3" textLength="57.6" lengthAdjust="spacingAndGlyphs" font-size="14" fill="#e4e4ea" stroke="#e4e4ea" stroke-width="0.35" font-weight="normal">0.62000</text>
<text x="944.2" y="253.4" textLength="53.8" lengthAdjust="spacingAndGlyphs" font-size="14" fill="#e4e4ea" stroke="#e4e4ea" stroke-width="0.35" font-weight="normal">0.61600</text>
<text x="944.2" y="295.5" textLength="52.8" lengthAdjust="spacingAndGlyphs" font-size="14" fill="#e4e4ea" stroke="#e4e4ea" stroke-width="0.35" font-weight="normal">0.61300</text>
<text x="944" y="341" textLength="61.8" lengthAdjust="spacingAndGlyphs" font-size="14" fill="#e4e4ea" stroke="#e4e4ea" stroke-width="0.35" font-weight="normal">0.00000</text>
<text x="945" y="392.4" textLength="64.7" lengthAdjust="spacingAndGlyphs" font-size="14" fill="#e4e4ea" stroke="#e4e4ea" stroke-width="0.35" font-weight="normal">-0.00100</text>
<text x="68.75" y="434.4" textLength="46.85" lengthAdjust="spacingAndGlyphs" font-size="14.5" fill="#ececf2" stroke="#ececf2" stroke-width="0" font-weight="bold">07/09</text>
<text x="231.6" y="434.4" textLength="36.4" lengthAdjust="spacingAndGlyphs" font-size="14.5" fill="#ececf2" stroke="#ececf2" stroke-width="0.35" font-weight="normal">12:00</text>
<text x="385" y="434.4" textLength="43.9" lengthAdjust="spacingAndGlyphs" font-size="14.5" fill="#ececf2" stroke="#ececf2" stroke-width="0" font-weight="bold">10/09</text>
<text x="546.2" y="434.4" textLength="36.6" lengthAdjust="spacingAndGlyphs" font-size="14.5" fill="#ececf2" stroke="#ececf2" stroke-width="0.35" font-weight="normal">12:00</text>
<text x="701.5" y="434.4" textLength="40.5" lengthAdjust="spacingAndGlyphs" font-size="14.5" fill="#ececf2" stroke="#ececf2" stroke-width="0" font-weight="bold">11/09</text>
<text x="861" y="434.4" textLength="35.8" lengthAdjust="spacingAndGlyphs" font-size="14.5" fill="#ececf2" stroke="#ececf2" stroke-width="0.35" font-weight="normal">12:00</text>
<rect x="934.9" y="254.1" width="65.3" height="17" rx="1.5" fill="#e8274b"/>
<text x="944.1" y="267.9" textLength="50.1" lengthAdjust="spacingAndGlyphs" font-size="14.8" fill="#f8dfe5" stroke="#f8dfe5" stroke-width="0.3" font-weight="normal">0.61501</text>
<rect x="934.9" y="272.2" width="67.5" height="19" rx="1.5" fill="#1ce6f7"/>
<text x="944.1" y="286.3" textLength="51.7" lengthAdjust="spacingAndGlyphs" font-size="14.8" fill="#0b2433" stroke="#0b2433" stroke-width="0.3" font-weight="normal">0.61495</text>
<path d="M941.1 22.2 L956.1 37.1 M956.1 22.2 L941.1 37.1" stroke="#f0f0f4" fill="none" stroke-width="1.6" stroke-linecap="round"/>
<path d="M849.6 89.1 L849.6 85.2 L860.2 74.6 Q861.6 73.2 863 74.6 L864.3 75.9 Q865.7 77.3 864.3 78.7 L853.9 89.1 Z M860.5 75.3 L863.7 78.5 M856.6 89.1 L864.6 89.1" stroke="#f0f0f4" fill="none" stroke-width="2.05" stroke-linecap="round" stroke-linejoin="round"/>
<path d="M898.96 74.38 A8.4 8.4 0 1 1 900.3 89.79 M897.06 87.84 A8.4 8.4 0 0 1 895.78 77.35 L902.7 81.9" stroke="#f0f0f4" fill="none" stroke-width="2.05" stroke-linecap="round" stroke-linejoin="round"/>
<path d="M948.4 73 L956.4 77.3 L956.4 86.3 L948.4 90.6 L940.4 86.3 L940.4 77.3 Z" stroke="#f0f0f4" fill="none" stroke-width="2.05" stroke-linecap="round" stroke-linejoin="round"/>
<circle cx="948.4" cy="81.8" r="2.9" stroke="#f0f0f4" fill="none" stroke-width="2.05" stroke-linecap="round" stroke-linejoin="round"/>
</svg>
</div></body></html>
